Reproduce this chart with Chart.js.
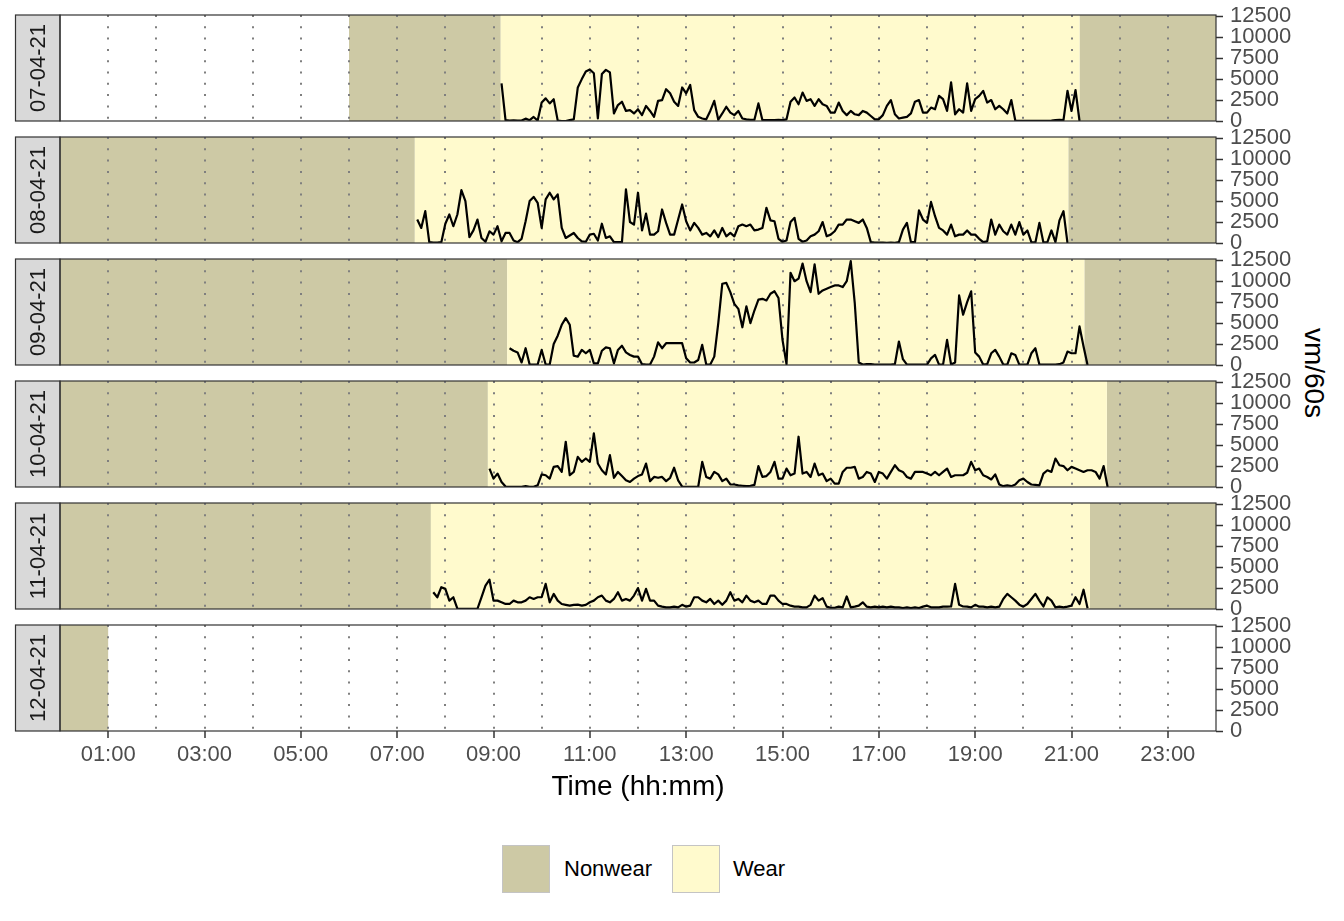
<!DOCTYPE html>
<html>
<head>
<meta charset="utf-8">
<script src="https://cdn.jsdelivr.net/npm/chart.js@4.4.1/dist/chart.umd.min.js"></script>
<style>
  body { margin: 0; background: #fff; font-family: "Liberation Sans", Arial, sans-serif; }
  #wrap { position: relative; width: 1344px; height: 921px; overflow: hidden; }
  #wrap canvas { position: absolute; left: 0; }
  .ytitle { position: absolute; left: 1314px; top: 373px; transform: translate(-50%, -50%) rotate(90deg);
            font-size: 28px; color: #000; white-space: nowrap; }
  .key { position: absolute; top: 845px; width: 46px; height: 46px; border: 1px solid #c4c4c4; }
  .keytext { position: absolute; top: 845px; height: 48px; line-height: 48px; font-size: 22px; color: #000; }
</style>
</head>
<body>
<div id="wrap">
  <div class="ytitle">vm/60s</div>
  <div class="key" style="left:502px;background:#CDC9A5"></div>
  <div class="keytext" style="left:564px">Nonwear</div>
  <div class="key" style="left:672px;background:#FFFACD"></div>
  <div class="keytext" style="left:733px">Wear</div>
</div>
<script>
// facet labels
const days = ['07-04-21', '08-04-21', '09-04-21', '10-04-21', '11-04-21', '12-04-21'];

// nonwear / wear periods per day (hh:mm)
const nonwearBands = [
  [['06:00', '09:09'], ['21:10', '24:00']],
  [['00:00', '07:22'], ['20:56', '24:00']],
  [['00:00', '09:17'], ['21:16', '24:00']],
  [['00:00', '08:53'], ['21:44', '24:00']],
  [['00:00', '07:42'], ['21:23', '24:00']],
  [['00:00', '01:00']]
];
const wearBands = [
  [['09:09', '21:10']],
  [['07:22', '20:56']],
  [['09:17', '21:16']],
  [['08:53', '21:44']],
  [['07:42', '21:23']],
  []
];

// vm/60s, one value every 5 minutes from the start time
const vmStart = ['09:10', '07:25', '09:20', '08:55', '07:45', null];
const vm0704 = [4500,100,50,80,50,50,280,100,480,50, 2200,2700,2100,2600,50,0,0,100,200,4000,
  5000,5900,6150,5700,300,5600,6100,5800,900,1900, 2300,1200,1300,900,1400,700,1800,1200,500,2400,
  2500,3800,3300,2300,1800,4000,3300,4300,1300,500, 300,200,1200,2400,150,900,1700,1000,700,1200,
  300,200,150,150,2100,100,100,100,100,150, 100,200,2300,2800,2000,3400,2400,2600,1800,2600,
  2000,1800,1000,1000,2200,1200,700,1200,800,700, 1200,1000,600,200,200,700,1800,2500,800,300,
  400,500,900,2300,2500,1000,1000,1600,1400,3000, 2600,1200,4600,800,1400,1000,4500,1200,2600,3000,
  3600,2200,2500,1400,1800,1400,900,2500,50,20, 20,20,20,20,20,20,20,50,100,150,
  100,3600,1200,3700,0];
const vm0804 = [2800,1800,3800,100,50,50,100,2300,3400,2000, 3400,6300,5000,700,1500,2800,600,150,1400,1000,
  2000,200,1200,1200,300,100,500,2600,5000,5500, 4800,1800,5200,6000,5200,5800,1800,600,900,1200,
  600,200,150,1000,1100,300,2300,600,800,100, 100,100,6400,2500,2200,6000,1500,3500,1000,1000,
  1400,4000,2400,1000,1000,2800,4600,2600,1500,2400, 1800,1000,1200,800,1500,700,1800,800,1200,800,
  2000,2200,2000,2200,1500,1600,1800,4200,2700,2600, 500,150,300,2500,3000,500,150,300,800,1000,
  1400,2500,800,1000,1400,2200,2200,2800,2800,2600, 2400,2800,1800,100,50,50,50,30,50,30,
  100,1600,2400,100,100,3900,2800,2400,4900,3200, 1800,1500,1000,2200,800,1000,1000,1500,1000,1000,
  500,100,200,2800,1000,2200,1400,1000,2200,1000, 2500,1000,1500,100,50,2400,50,100,1500,100,
  2700,3800,0];
const vm0904 = [2000,1700,1500,300,2000,50,50,50,1800,50, 50,2500,3500,4800,5600,4800,1100,1000,1800,1400,
  1800,200,200,1700,2100,2000,200,1800,2300,1500, 1200,1000,1000,100,50,50,1000,2700,2000,2600,
  2600,2600,2600,2600,800,300,300,600,2400,50, 50,1000,5000,9700,9800,8700,7300,6700,4500,7000,
  5000,6500,7800,7900,7700,8500,8800,8000,3000,100, 11000,10000,10300,12100,10000,8700,12000,8500,8900,9100,
  9300,9500,9500,9300,10000,12400,7400,300,50,100, 100,50,50,50,50,50,100,2800,700,50,
  50,50,50,50,50,800,1200,50,50,3000, 50,300,8300,6000,7500,8800,1500,1000,50,100,
  1400,1800,1000,50,50,1400,1200,50,50,50, 1400,2000,50,50,50,50,50,100,300,1600,
  1400,1400,4600,2200,0];
const vm1004 = [2200,1000,1600,600,50,30,30,30,30,100, 30,30,200,1500,1400,1000,2400,2500,1800,5400,
  1400,1800,3600,3000,3400,3000,6400,2800,2000,1500, 3800,1100,1800,1300,800,600,1000,1300,1500,2800,
  700,1200,1100,1200,700,1100,2300,800,50,30, 30,30,30,3000,1200,1000,1800,1500,700,1000,
  300,300,200,150,100,150,250,2500,1200,1300, 1800,3000,1000,1000,2200,1400,1600,6000,1600,1800,
  1200,2800,1400,1600,700,1000,400,400,1800,2300, 2300,2400,1000,1200,1800,1600,600,1800,1600,1000,
  1800,2600,2000,1800,1200,1000,1800,1800,1800,1600, 1400,1800,1400,1800,2200,1200,1400,1400,1400,1700,
  3000,2000,2200,1400,1200,900,1500,300,100,200, 100,300,800,1000,600,300,250,200,1600,2000,
  1800,3400,2600,2500,2000,2400,2200,2000,1800,2000, 2000,1800,1000,2500,0];
const vm1104 = [2000,1400,2600,2400,1000,1400,50,30,30,30, 30,30,1400,2800,3500,1000,1000,800,600,600,
  1000,800,800,1000,1400,1200,1400,1400,3000,800, 1800,1000,600,500,400,500,520,400,500,800,
  1000,1400,1600,1000,800,1200,2000,1000,1200,1000, 1600,2500,1000,2400,1000,1000,400,280,200,200,
  280,200,500,280,400,1400,1400,1000,800,1200, 600,1000,500,1000,2000,1000,1200,800,1600,1000,
  800,1000,600,600,1600,1600,1000,600,600,400, 280,280,200,200,500,1600,1000,1300,280,150,
  150,280,200,1500,200,280,400,800,280,200, 280,200,280,200,280,200,200,120,200,120,
  200,120,280,400,200,200,200,280,280,300, 3000,500,300,280,200,500,280,280,200,280,
  200,280,1200,1800,1400,1000,520,280,600,1200, 1800,1000,300,1400,1000,200,280,200,280,400,
  1400,600,2300,100];
const vmValues = [vm0704, vm0804, vm0904, vm1004, vm1104, []];

// axes
const gridHours = [1,2,3,4,5,6,7,8,9,10,11,12,13,14,15,16,17,18,19,20,21,22,23];
const xTickHours = [1,3,5,7,9,11,13,15,17,19,21,23];
const xTickLabels = ['01:00','03:00','05:00','07:00','09:00','11:00','13:00','15:00','17:00','19:00','21:00','23:00'];
const yTicks = [0, 2500, 5000, 7500, 10000, 12500];

const NONWEAR = '#CDC9A5';
const WEAR = '#FFFACD';
const FONT = '"Liberation Sans", Arial, sans-serif';

function toHours(s) {
  const [h, m] = s.split(':').map(Number);
  return h + m / 60;
}

const facetPlugin = {
  id: 'facet',
  beforeDraw(chart, args, opts) {
    const { ctx, chartArea: a, scales: { x } } = chart;
    const k = opts.index;
    ctx.save();
    const fillBands = (bands, color) => bands.forEach(([s, e]) => {
      const x0 = x.getPixelForValue(toHours(s));
      const x1 = x.getPixelForValue(toHours(e));
      ctx.fillStyle = color;
      ctx.fillRect(x0, a.top, x1 - x0, a.bottom - a.top);
    });
    fillBands(nonwearBands[k], NONWEAR);
    fillBands(wearBands[k], WEAR);

    // strip on the left
    ctx.fillStyle = '#D9D9D9';
    ctx.fillRect(15, a.top, a.left - 15, a.bottom - a.top);
    ctx.strokeStyle = '#333333';
    ctx.lineWidth = 1.2;
    ctx.strokeRect(15.5, a.top, a.left - 15.5, a.bottom - a.top);
    ctx.translate((15 + a.left) / 2, (a.top + a.bottom) / 2);
    ctx.rotate(-Math.PI / 2);
    ctx.fillStyle = '#1A1A1A';
    ctx.font = '22px ' + FONT;
    ctx.textAlign = 'center';
    ctx.textBaseline = 'middle';
    ctx.fillText(days[k], 0, 1);
    ctx.restore();
  },
  afterDraw(chart) {
    const { ctx, chartArea: a } = chart;
    ctx.save();
    ctx.strokeStyle = '#333333';
    ctx.lineWidth = 1.2;
    ctx.strokeRect(a.left, a.top, a.right - a.left, a.bottom - a.top);
    ctx.restore();
  }
};

const wrap = document.getElementById('wrap');

days.forEach((day, k) => {
  const last = k === days.length - 1;
  const canvas = document.createElement('canvas');
  canvas.width = 1344;
  canvas.height = last ? 200 : 140;
  canvas.style.top = (k * 122) + 'px';
  wrap.appendChild(canvas);

  const start = vmStart[k] ? toHours(vmStart[k]) : 0;
  const points = vmValues[k].map((v, i) => ({ x: start + i * 5 / 60, y: v }));

  new Chart(canvas, {
    type: 'line',
    data: {
      datasets: [{
        label: 'vm/60s',
        data: points,
        borderColor: '#000',
        borderWidth: 2.2,
        borderJoinStyle: 'round',
        pointRadius: 0,
        tension: 0,
        fill: false
      }]
    },
    plugins: [facetPlugin],
    options: {
      responsive: false,
      devicePixelRatio: 1,
      animation: false,
      layout: { autoPadding: false, padding: { top: 15, left: 60, right: 0, bottom: last ? 0 : 19 } },
      plugins: {
        legend: { display: false },
        tooltip: { enabled: false },
        facet: { index: k }
      },
      scales: {
        x: {
          type: 'linear',
          min: 0,
          max: 24,
          afterBuildTicks: s => { s.ticks = gridHours.map(v => ({ value: v })); },
          afterFit: s => { s.height = last ? 79 : 0; s.paddingLeft = 0; s.paddingRight = 0; },
          border: { display: false, dash: [2, 9.3] },
          grid: {
            color: '#7F7F7F',
            lineWidth: 2,
            drawTicks: last,
            tickLength: 7,
            tickWidth: 1.5,
            tickColor: c => xTickHours.includes(c.tick.value) ? '#333333' : 'rgba(0,0,0,0)'
          },
          ticks: {
            display: last,
            autoSkip: false,
            maxRotation: 0,
            padding: 4,
            color: '#4D4D4D',
            font: { size: 22, family: FONT },
            callback: v => {
              const i = xTickHours.indexOf(v);
              return i >= 0 ? xTickLabels[i] : '';
            }
          },
          title: {
            display: last,
            text: 'Time (hh:mm)',
            color: '#000',
            font: { size: 28, family: FONT },
            padding: { top: 0, bottom: 6 }
          }
        },
        y: {
          position: 'right',
          min: 0,
          max: 12650,
          afterBuildTicks: s => { s.ticks = yTicks.map(v => ({ value: v })); },
          afterFit: s => { s.width = 128; s.paddingTop = 0; s.paddingBottom = 0; },
          border: { display: false },
          grid: {
            drawOnChartArea: false,
            drawTicks: true,
            tickLength: 7,
            tickWidth: 1.5,
            tickColor: '#333333'
          },
          ticks: {
            autoSkip: false,
            padding: 7,
            color: '#4D4D4D',
            font: { size: 22, family: FONT },
            callback: v => String(v)
          }
        }
      }
    }
  });
});
</script>
</body>
</html>
